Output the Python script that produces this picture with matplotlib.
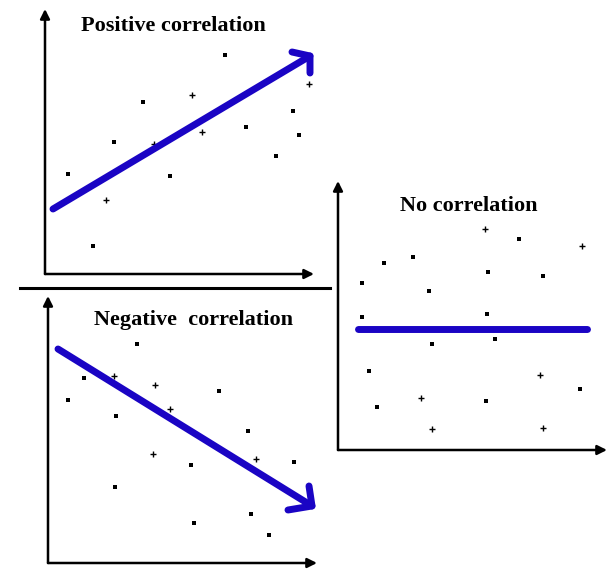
import matplotlib.pyplot as plt

BLUE = "#1a04c4"

# scatter points for each sketch (figure pixel coordinates)
pos_dots_x = [68, 93, 114, 143, 170, 225, 246, 276, 293, 299]
pos_dots_y = [174, 246, 142, 102, 176, 55, 127, 156, 111, 135]
pos_plus_x = [106, 154, 192, 202, 309]
pos_plus_y = [200, 144, 95, 132, 84]

neg_dots_x = [68, 84, 137, 116, 219, 248, 294, 191, 115, 194, 251, 269]
neg_dots_y = [400, 378, 344, 416, 391, 431, 462, 465, 487, 523, 514, 535]
neg_plus_x = [114, 155, 170, 256, 153]
neg_plus_y = [376, 385, 409, 459, 454]

none_dots_x = [362, 384, 413, 429, 362, 519, 488, 543, 487, 495, 432, 369, 580, 377, 486]
none_dots_y = [283, 263, 257, 291, 317, 239, 272, 276, 314, 339, 344, 371, 389, 407, 401]
none_plus_x = [485, 582, 540, 421, 432, 543]
none_plus_y = [229, 246, 375, 398, 429, 428]

# trend lines: start, end
pos_trend = [(53, 209), (310, 56)]
neg_trend = [(58, 349), (312, 506)]
none_trend = [(358, 329), (587, 329)]

# axis origins and arrow ends
panels = [
    {"origin": (45, 274), "top": 9, "right": 314},
    {"origin": (48, 563), "top": 296, "right": 317},
    {"origin": (338, 450), "top": 181, "right": 607},
]

titles = [("Positive correlation", 173, 26),
          ("Negative  correlation", 194, 320),
          ("No correlation", 469, 206)]

fig = plt.figure(figsize=(6.11, 5.71), dpi=100)
ax = fig.add_axes([0, 0, 1, 1])
ax.set_xlim(0, 611)
ax.set_ylim(571, 0)
ax.axis("off")

# axes with arrow heads
for p in panels:
    ox, oy = p["origin"]
    ax.annotate("", xy=(ox, p["top"]), xytext=(ox, oy),
                arrowprops=dict(arrowstyle="-|>", color="black", lw=1.8,
                                mutation_scale=14, shrinkA=0, shrinkB=0))
    ax.annotate("", xy=(p["right"], oy), xytext=(ox, oy),
                arrowprops=dict(arrowstyle="-|>", color="black", lw=1.8,
                                mutation_scale=14, shrinkA=0, shrinkB=0))

# divider between the two left sketches
ax.plot([20, 330], [288, 288], color="black", lw=2.2)

# points
for xs, ys in [(pos_dots_x, pos_dots_y), (neg_dots_x, neg_dots_y), (none_dots_x, none_dots_y)]:
    ax.plot(xs, ys, "s", color="black", ms=2.6, mew=0)
for xs, ys in [(pos_plus_x, pos_plus_y), (neg_plus_x, neg_plus_y), (none_plus_x, none_plus_y)]:
    ax.plot(xs, ys, "+", color="black", ms=4, mew=1)

# hand-drawn looking trend arrows
for (x0, y0), (x1, y1) in [pos_trend, neg_trend]:
    ax.plot([x0, x1], [y0, y1], color=BLUE, lw=5, solid_capstyle="round")
ax.plot([292, 310, 310], [52, 56, 73], color=BLUE, lw=5,
        solid_capstyle="round", solid_joinstyle="round")
ax.plot([309, 312, 288], [486, 506, 510], color=BLUE, lw=5,
        solid_capstyle="round", solid_joinstyle="round")
ax.plot([none_trend[0][0], none_trend[1][0]], [none_trend[0][1], none_trend[1][1]],
        color=BLUE, lw=5, solid_capstyle="round")

for text, x, y in titles:
    ax.text(x, y, text, ha="center", va="center", fontsize=16,
            fontweight="bold", family="Liberation Serif")

fig.savefig("out.png", dpi=100)
